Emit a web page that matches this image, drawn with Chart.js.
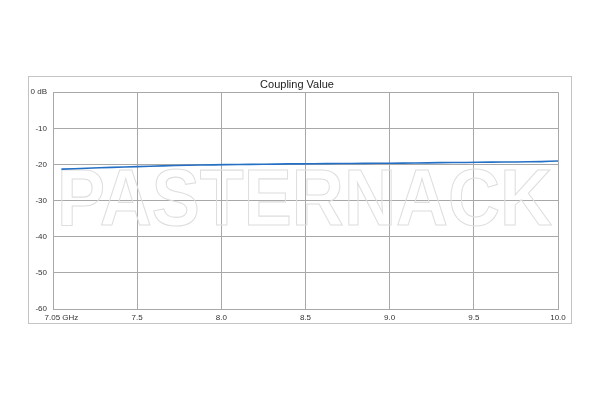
<!DOCTYPE html>
<html>
<head>
<meta charset="utf-8">
<script src="https://cdn.jsdelivr.net/npm/chart.js@4"></script>
<style>
  html, body { margin: 0; padding: 0; background: #fff; }
  #wrap { width: 600px; height: 400px; }
</style>
</head>
<body>
<div id="wrap"><canvas id="chart" width="600" height="400"></canvas></div>
<script>
// ── Data ────────────────────────────────────────────────
const freqs   = [7.05, 7.2, 7.35, 7.5, 7.65, 7.8, 7.95, 8.1, 8.25, 8.4, 8.55,
                 8.7, 8.85, 9.0, 9.15, 9.3, 9.45, 9.6, 9.75, 9.9, 10.0];
const coupling = [-21.3, -21.05, -20.8, -20.6, -20.4, -20.2, -20.1, -20.0, -19.95, -19.85, -19.8,
                  -19.75, -19.7, -19.65, -19.6, -19.5, -19.45, -19.35, -19.3, -19.2, -19.05];
const xTicks  = [7.05, 7.5, 8.0, 8.5, 9.0, 9.5, 10.0];
const yTicks  = [0, -10, -20, -30, -40, -50, -60];

const GRID = "#a8a8a8";
const TICK_FONT = { family: "Liberation Sans", size: 8 };

// outer frame + watermark
const framePlugin = {
    id: "frame",
    beforeDraw(chart) {
        const c = chart.ctx;
        c.save();
        c.strokeStyle = "#c4c4c4";
        c.lineWidth = 1;
        c.strokeRect(28.5, 76.5, 543, 247);
        c.restore();
    },
    beforeDatasetsDraw(chart) {
        const c = chart.ctx;
        c.save();
        c.font = "bold 80px 'Liberation Sans'";
        const w = c.measureText("PASTERNACK").width;
        c.translate(57, 225);
        c.scale(495 / w, 1);
        c.strokeStyle = "#dedede";
        c.lineWidth = 1.1;
        c.strokeText("PASTERNACK", 0, 0);
        c.restore();
    }
};

new Chart(document.getElementById("chart"), {
    type: "line",
    data: {
        datasets: [{
            label: "Coupling",
            data: freqs.map((f, i) => ({ x: f, y: coupling[i] })),
            borderColor: "#2570c4",
            borderWidth: 1.6,
            pointRadius: 0,
            tension: 0.2,
            fill: false,
        }],
    },
    options: {
        responsive: false,
        animation: false,
        layout: { padding: { top: 78, right: 6, bottom: 0, left: 0 } },
        plugins: {
            legend: { display: false },
            tooltip: { enabled: false },
            title: {
                display: true,
                text: "Coupling Value",
                color: "#222",
                font: { family: "Liberation Sans", size: 11, weight: "normal" },
                padding: { top: 0, bottom: 1 },
            },
        },
        scales: {
            x: {
                type: "linear",
                min: 7.0,
                max: 10.0,
                afterBuildTicks: s => { s.ticks = xTicks.map(v => ({ value: v })); },
                afterFit: s => { s.height = 91; },
                grid: {
                    color: ctx => (ctx.tick && ctx.tick.value === 7.05) ? "rgba(0,0,0,0)" : GRID,
                    drawTicks: false,
                },
                border: { color: GRID },
                ticks: {
                    autoSkip: false,
                    maxRotation: 0,
                    padding: 4,
                    color: "#333",
                    font: TICK_FONT,
                    callback: (v, i) => i === 0 ? "7.05 GHz" : Number(v).toFixed(1),
                },
            },
            y: {
                min: -60,
                max: 0,
                afterBuildTicks: s => { s.ticks = yTicks.map(v => ({ value: v })); },
                afterFit: s => { s.width = 53; },
                grid: { color: GRID, drawTicks: false },
                border: { color: GRID },
                ticks: {
                    padding: 6,
                    color: "#333",
                    font: TICK_FONT,
                    callback: v => v === 0 ? "0 dB" : String(v),
                },
            },
            // empty right-hand axis only to balance the frame so the title centres like the original
            yPad: {
                position: "right",
                min: -60,
                max: 0,
                afterFit: s => { s.width = 36; },
                grid: { display: false },
                border: { display: false },
                ticks: { display: false },
            },
        },
    },
    plugins: [framePlugin],
});
</script>
</body>
</html>
